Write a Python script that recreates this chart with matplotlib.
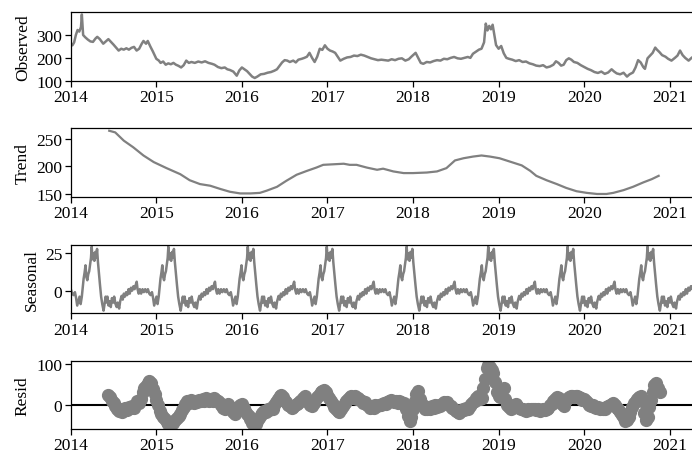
import numpy as np
import matplotlib
matplotlib.use("Agg")
import matplotlib.pyplot as plt
from matplotlib.ticker import FixedLocator, FormatStrFormatter

plt.rcParams["font.family"] = "serif"
plt.rcParams["font.serif"] = ["Liberation Serif", "DejaVu Serif"]
plt.rcParams["font.size"] = 12.5

# observed series (decimal year, value)
obs_t = [
    2014.00, 2014.02, 2014.04, 2014.06, 2014.08, 2014.10, 2014.12, 2014.13, 2014.145, 2014.17,
    2014.20, 2014.23, 2014.26, 2014.29, 2014.31, 2014.34, 2014.38, 2014.41, 2014.44, 2014.47,
    2014.50, 2014.53, 2014.56, 2014.59, 2014.62, 2014.65, 2014.68, 2014.71, 2014.74, 2014.77,
    2014.80, 2014.83, 2014.85, 2014.88, 2014.90, 2014.93, 2014.96, 2015.00, 2015.03, 2015.05,
    2015.08, 2015.11, 2015.14, 2015.17, 2015.20, 2015.23, 2015.26, 2015.29, 2015.32, 2015.35,
    2015.38, 2015.41, 2015.45, 2015.49, 2015.53, 2015.57, 2015.61, 2015.65, 2015.68, 2015.72,
    2015.76, 2015.80, 2015.83, 2015.86, 2015.90, 2015.94, 2015.97, 2016.00, 2016.03, 2016.06,
    2016.09, 2016.12, 2016.15, 2016.18, 2016.22, 2016.26, 2016.30, 2016.34, 2016.38, 2016.41,
    2016.44, 2016.47, 2016.50, 2016.53, 2016.56, 2016.60, 2016.63, 2016.66, 2016.70, 2016.73,
    2016.76, 2016.79, 2016.82, 2016.85, 2016.88, 2016.91, 2016.94, 2016.97, 2017.00, 2017.03,
    2017.06, 2017.09, 2017.12, 2017.15, 2017.19, 2017.23, 2017.27, 2017.31, 2017.35, 2017.39,
    2017.43, 2017.47, 2017.51, 2017.55, 2017.59, 2017.63, 2017.67, 2017.71, 2017.75, 2017.79,
    2017.83, 2017.87, 2017.91, 2017.95, 2017.98, 2018.03, 2018.06, 2018.09, 2018.12, 2018.16,
    2018.20, 2018.24, 2018.28, 2018.32, 2018.36, 2018.40, 2018.44, 2018.48, 2018.52, 2018.56,
    2018.60, 2018.64, 2018.67, 2018.70, 2018.74, 2018.77, 2018.80, 2018.83, 2018.85, 2018.87,
    2018.89, 2018.91, 2018.93, 2018.95, 2018.97, 2019.00, 2019.03, 2019.06, 2019.09, 2019.12,
    2019.16, 2019.20, 2019.24, 2019.28, 2019.32, 2019.36, 2019.40, 2019.44, 2019.48, 2019.52,
    2019.56, 2019.60, 2019.64, 2019.67, 2019.70, 2019.73, 2019.76, 2019.79, 2019.82, 2019.85,
    2019.88, 2019.92, 2019.96, 2020.00, 2020.04, 2020.08, 2020.12, 2020.16, 2020.20, 2020.24,
    2020.28, 2020.32, 2020.35, 2020.38, 2020.42, 2020.46, 2020.50, 2020.53, 2020.57, 2020.60,
    2020.63, 2020.66, 2020.69, 2020.71, 2020.74, 2020.77, 2020.80, 2020.83, 2020.85, 2020.88,
    2020.91, 2020.95, 2020.98, 2021.02, 2021.06, 2021.09, 2021.12, 2021.15, 2021.18, 2021.22,
    2021.26, 2021.30, 2021.33,
]
obs_v = [
    262, 255, 268, 300, 322, 315, 335, 390, 300, 290,
    280, 272, 270, 285, 292, 282, 262, 272, 282, 270,
    258, 245, 232, 240, 236, 242, 236, 244, 248, 232,
    240, 262, 274, 262, 274, 250, 228, 196, 188, 178,
    184, 170, 176, 172, 178, 170, 165, 158, 168, 188,
    178, 182, 178, 184, 180, 185, 178, 174, 170, 160,
    155, 158, 150, 147, 140, 122, 145, 158, 150, 142,
    130, 118, 112, 118, 128, 130, 135, 138, 144, 150,
    165, 180, 190, 188, 182, 188, 180, 192, 196, 200,
    205, 222, 200, 182, 205, 240, 235, 255, 240, 232,
    228, 222, 205, 188, 196, 202, 204, 210, 208, 214,
    210, 204, 198, 194, 190, 192, 190, 188, 194, 190,
    196, 198, 188, 194, 205, 222, 200, 178, 174, 182,
    180, 186, 190, 188, 196, 194, 200, 204, 198, 196,
    200, 204, 200, 218, 228, 236, 240, 268, 350, 320,
    340, 325, 345, 300, 256, 240, 252, 220, 200, 196,
    192, 186, 190, 182, 184, 176, 172, 166, 164, 168,
    158, 162, 170, 185, 178, 166, 170, 190, 198, 192,
    182, 178, 168, 160, 152, 146, 138, 134, 140, 130,
    136, 150, 140, 132, 128, 135, 118, 128, 136, 158,
    190, 180, 160, 152, 198, 210, 222, 245, 236, 225,
    212, 205, 196, 188, 200, 210, 232, 212, 200, 188,
    202, 192, 200,
]

# trend (centred moving average, undefined at both ends)
trend_t = [
    2014.45, 2014.52, 2014.62, 2014.73, 2014.85, 2014.97, 2015.12, 2015.28, 2015.39, 2015.51,
    2015.63, 2015.75, 2015.86, 2015.98, 2016.10, 2016.21, 2016.29, 2016.41, 2016.52, 2016.64,
    2016.76, 2016.87, 2016.95, 2017.07, 2017.19, 2017.26, 2017.34, 2017.46, 2017.58, 2017.65,
    2017.77, 2017.89, 2018.00, 2018.16, 2018.28, 2018.39, 2018.49, 2018.59, 2018.70, 2018.80,
    2018.90, 2019.01, 2019.13, 2019.27, 2019.37, 2019.44, 2019.56, 2019.68, 2019.79, 2019.91,
    2020.03, 2020.15, 2020.26, 2020.34, 2020.46, 2020.57, 2020.69, 2020.79, 2020.87,
]
trend_v = [
    265, 262, 247, 235, 220, 208, 197, 186, 175, 168,
    165, 159, 154, 151, 151, 152, 156, 163, 174, 185,
    192, 198, 203, 204, 205, 203, 203, 198, 194, 196,
    191, 188, 188, 189, 191, 197, 211, 215, 218, 220,
    218, 215, 209, 202, 192, 183, 175, 168, 161, 155,
    152, 150, 150, 152, 157, 163, 171, 177, 183,
]

# one seasonal cycle, phase 0 at the main peak
season_phase = [
    0.000, 0.012, 0.023, 0.035, 0.047, 0.059, 0.070, 0.082, 0.094, 0.108,
    0.123, 0.138, 0.155, 0.170, 0.182, 0.191, 0.205, 0.220, 0.232, 0.249,
    0.264, 0.282, 0.293, 0.311, 0.326, 0.340, 0.358, 0.372, 0.390, 0.405,
    0.419, 0.434, 0.449, 0.463, 0.481, 0.496, 0.513, 0.528, 0.545, 0.560,
    0.575, 0.587, 0.598, 0.613, 0.628, 0.645, 0.663, 0.680, 0.698, 0.716,
    0.733, 0.751, 0.768, 0.786, 0.801, 0.815, 0.830, 0.845, 0.859, 0.874,
    0.886, 0.897, 0.909, 0.921, 0.933, 0.944, 0.956, 0.968, 0.980, 0.991,
]
season_v = [
    29.5, 21, 25, 20, 26, 22, 28, 19, 12, 4,
    -4, -9, -13.4, -8, -4, -8, -4, -10, -7, -11,
    -5, -8, -4, -9, -11, -8, -12, -7, -3.5, -6,
    -2, -4, -1, -3, 1, -2, 2, 0, 3, 1,
    4, 6, 1, -2, 1, -2, 1, -1, 1, -1,
    1, -2, -3, -1, -5, -10, -7, -4, -9, -4,
    2, 8, 12, 17, 9, 7, 11, 13, 18, 22,
]
# dates of the seasonal peaks (cycle boundaries)
season_peaks = [2013.33, 2014.245, 2015.141, 2016.069, 2016.992, 2017.925,
                2018.879, 2019.806, 2020.740, 2021.67]

# residuals, sampled every 0.02 year from mid-2014
resid_start = 2014.44
resid_step = 0.02
resid_v = [
    24, 18, 10, 4, -4, -10, -16, -12, -18, -12,
    -9, -13, -6, -9, -4, -8, 2, 8, 4, 14,
    30, 42, 46, 52, 58, 52, 38, 26, 12, -2,
    -15, -24, -31, -36, -42, -48, -52, -46, -44, -38,
    -34, -28, -22, -14, -6, 2, 8, 4, 12, 8,
    4, 10, 6, 12, 8, 14, 10, 16, 12, 8,
    14, 10, 16, 12, 8, 4, 0, -8, -12, -4,
    2, -6, -12, -18, -24, -14, -6, 0, 2, -8,
    -16, -22, -28, -36, -44, -50, -48, -40, -32, -26,
    -20, -16, -18, -12, -14, -8, -10, -2, 6, 14,
    20, 24, 18, 10, 6, 0, -4, -8, -6, -2,
    2, 4, 8, 12, 16, 20, 12, 4, -2, -4,
    4, 12, 18, 24, 30, 34, 36, 30, 24, 16,
    8, 2, -6, -10, -16, -18, -10, -4, 4, 10,
    14, 18, 20, 16, 20, 14, 16, 12, 8, 4,
    6, 0, -4, -8, -4, -8, -2, -4, 0, -2,
    2, 4, 2, 6, 8, 12, 10, 6, 8, 4,
    8, 6, 2, 4, -10, -28, -40, -30, -10, 8,
    26, 34, 14, 2, -4, -10, -12, -6, -10, -4,
    -8, -2, -6, 0, -4, 2, 6, 4, 6, 0,
    -4, -8, -12, -16, -18, -20, -16, -12, -14, -8,
    -10, -4, 2, 6, 10, 16, 20, 14, 16, 40,
    64, 90, 98, 92, 84, 78, 56, 32, 20, 18,
    36, 42, 14, -2, -6, -12, -8, -2, 2, -4,
    -8, -12, -10, -14, -16, -12, -14, -10, -12, -10,
    -14, -12, -16, -14, -12, -14, -10, -8, -2, 2,
    8, 14, 18, 16, 8, 2, -4, 8, 14, 18,
    20, 22, 18, 20, 22, 18, 16, 12, 14, 8,
    4, 0, -4, -2, -6, -8, -6, -10, -8, -12,
    -10, -6, -4, -2, 2, 4, -2, -8, -12, -18,
    -26, -34, -40, -38, -30, -18, -6, 4, 10, 14,
    18, 22, 10, -20, -39, -30, -6, 12, 30, 48,
    52, 40, 30,
]

GRAY = "#808080"

# place each cycle of the seasonal profile between consecutive peaks
seas_x, seas_y = [], []
for start, end in zip(season_peaks[:-1], season_peaks[1:]):
    for p, v in zip(season_phase, season_v):
        seas_x.append(start + p * (end - start))
        seas_y.append(v)
seas_x.append(season_peaks[-1])
seas_y.append(season_v[0])

resid_t = resid_start + resid_step * np.arange(len(resid_v))

fig = plt.figure(figsize=(6.92, 4.56), dpi=100)
left, width = 0.1022, 0.9065
axes = [
    fig.add_axes([left, 0.8208, width, 0.1513]),
    fig.add_axes([left, 0.5664, width, 0.1507]),
    fig.add_axes([left, 0.3107, width, 0.1504]),
    fig.add_axes([left, 0.0570, width, 0.1498]),
]
ax_obs, ax_trend, ax_seas, ax_res = axes

ax_obs.plot(obs_t, obs_v, color=GRAY, lw=1.8)
ax_obs.set_ylim(100, 402)
ax_obs.set_yticks([100, 200, 300])
ax_obs.set_ylabel("Observed")

ax_trend.plot(trend_t, trend_v, color=GRAY, lw=1.6)
ax_trend.set_ylim(145, 270)
ax_trend.set_yticks([150, 200, 250])
ax_trend.set_ylabel("Trend")

ax_seas.plot(seas_x, seas_y, color=GRAY, lw=1.8)
ax_seas.set_ylim(-15.2, 30.8)
ax_seas.set_yticks([0, 25])
ax_seas.set_ylabel("Seasonal")

ax_res.plot(resid_t, resid_v, marker="o", linestyle="none", color=GRAY, markersize=8.5)
ax_res.axhline(0, color="black", lw=1.5, zorder=-3)
ax_res.set_ylim(-60, 108)
ax_res.set_yticks([0, 100])
ax_res.set_ylabel("Resid")

years = list(range(2014, 2022))
for ax in axes:
    ax.set_xlim(obs_t[0], obs_t[-1])
    ax.xaxis.set_major_locator(FixedLocator(years))
    ax.xaxis.set_major_formatter(FormatStrFormatter("%d"))
    ax.tick_params(direction="out", length=4, width=0.9, pad=2)
    for sp in ax.spines.values():
        sp.set_linewidth(0.9)

fig.savefig("out.png", dpi=100)
